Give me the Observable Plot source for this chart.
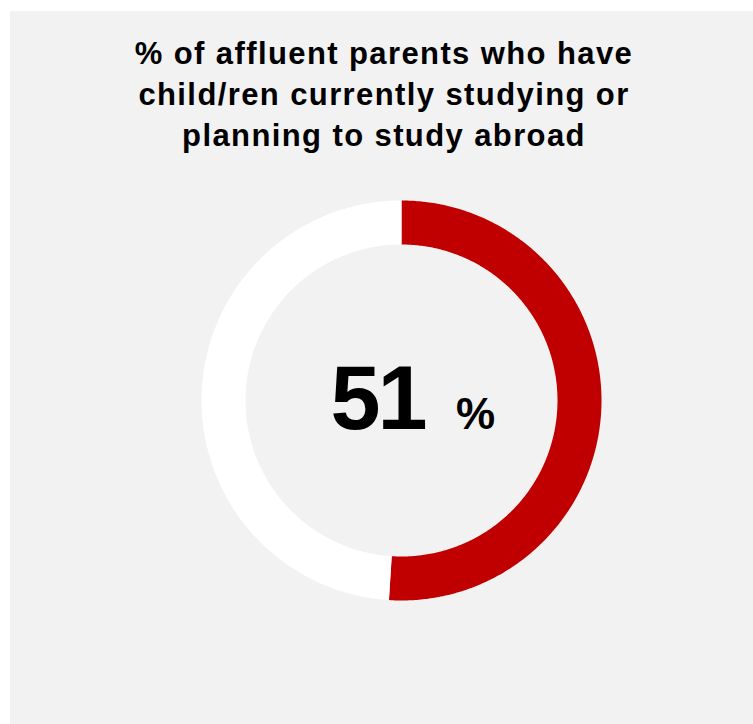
<!DOCTYPE html>
<html>
<head>
<meta charset="utf-8">
<script src="https://cdn.jsdelivr.net/npm/d3@7"></script>
<script src="https://cdn.jsdelivr.net/npm/@observablehq/plot@0.6"></script>
<style>
  html, body { margin: 0; padding: 0; background: #ffffff; }
  body { width: 753px; height: 724px; position: relative; overflow: hidden; font-family: "Liberation Sans", Arial, sans-serif; }
  #panel { position: absolute; left: 10px; top: 11px; width: 743px; height: 713px; background: #f2f2f2; }
  #title { position: absolute; left: 0; top: 22px; width: 748px; text-align: center; font-weight: bold; font-size: 31px; letter-spacing: 1.4px; line-height: 41px; color: #000; }
  #chart { position: absolute; left: 0; top: 0; }
  .big text { letter-spacing: -3px; }
</style>
</head>
<body>
<div id="panel">
  <div id="title">% of affluent parents who have<br>child/ren currently studying or<br>planning to study abroad</div>
  <div id="chart"></div>
</div>
<script>
// Data
const categories = ["Yes", "No"];
const values = [51, 49];
const colors = ["#c00000", "#ffffff"];
const centerLabel = "51";
const centerUnit = "%";

const data = categories.map((c, i) => ({category: c, value: values[i], color: colors[i]}));
const arcs = d3.pie().sort(null).value(d => d.value)(data);

// ring geometry in data units (outer radius = 1)
const outerR = 1, innerR = 0.78;
const midR = (outerR + innerR) / 2;
const ringPx = 200; // pixels per unit

// sample each arc along its centre line
const pts = [];
arcs.forEach((a, k) => {
  const n = Math.max(2, Math.ceil((a.endAngle - a.startAngle) / 0.01));
  for (let j = 0; j <= n; j++) {
    const t = a.startAngle + (a.endAngle - a.startAngle) * j / n;
    pts.push({category: a.data.category, color: a.data.color, x: midR * Math.sin(t), y: midR * Math.cos(t)});
  }
});

const W = 743, H = 713;
const cx = 391, cy = 389;

const chart = Plot.plot({
  width: W,
  height: H,
  margin: 0,
  style: {background: "transparent", overflow: "visible"},
  x: {domain: [-1, 1], range: [cx - ringPx, cx + ringPx], axis: null},
  y: {domain: [-1, 1], range: [cy + ringPx, cy - ringPx], axis: null},
  marks: [
    Plot.line(pts, {x: "x", y: "y", z: "category", stroke: "color", strokeWidth: (outerR - innerR) * ringPx, strokeLinecap: "butt", strokeLinejoin: "round", curve: "linear"}),
    Plot.text([centerLabel], {x: 0, y: 0, text: d => d, dx: -24, dy: 28, fontSize: 90, fontWeight: "bold", fill: "#000", textAnchor: "middle", lineAnchor: "bottom", fontFamily: "Liberation Sans, Arial, sans-serif", className: "big"}),
    Plot.text([centerUnit], {x: 0, y: 0, text: d => d, dx: 74, dy: 28, fontSize: 44, fontWeight: "bold", fill: "#000", textAnchor: "middle", lineAnchor: "bottom", fontFamily: "Liberation Sans, Arial, sans-serif"})
  ]
});
document.getElementById("chart").appendChild(chart);
</script>
</body>
</html>
